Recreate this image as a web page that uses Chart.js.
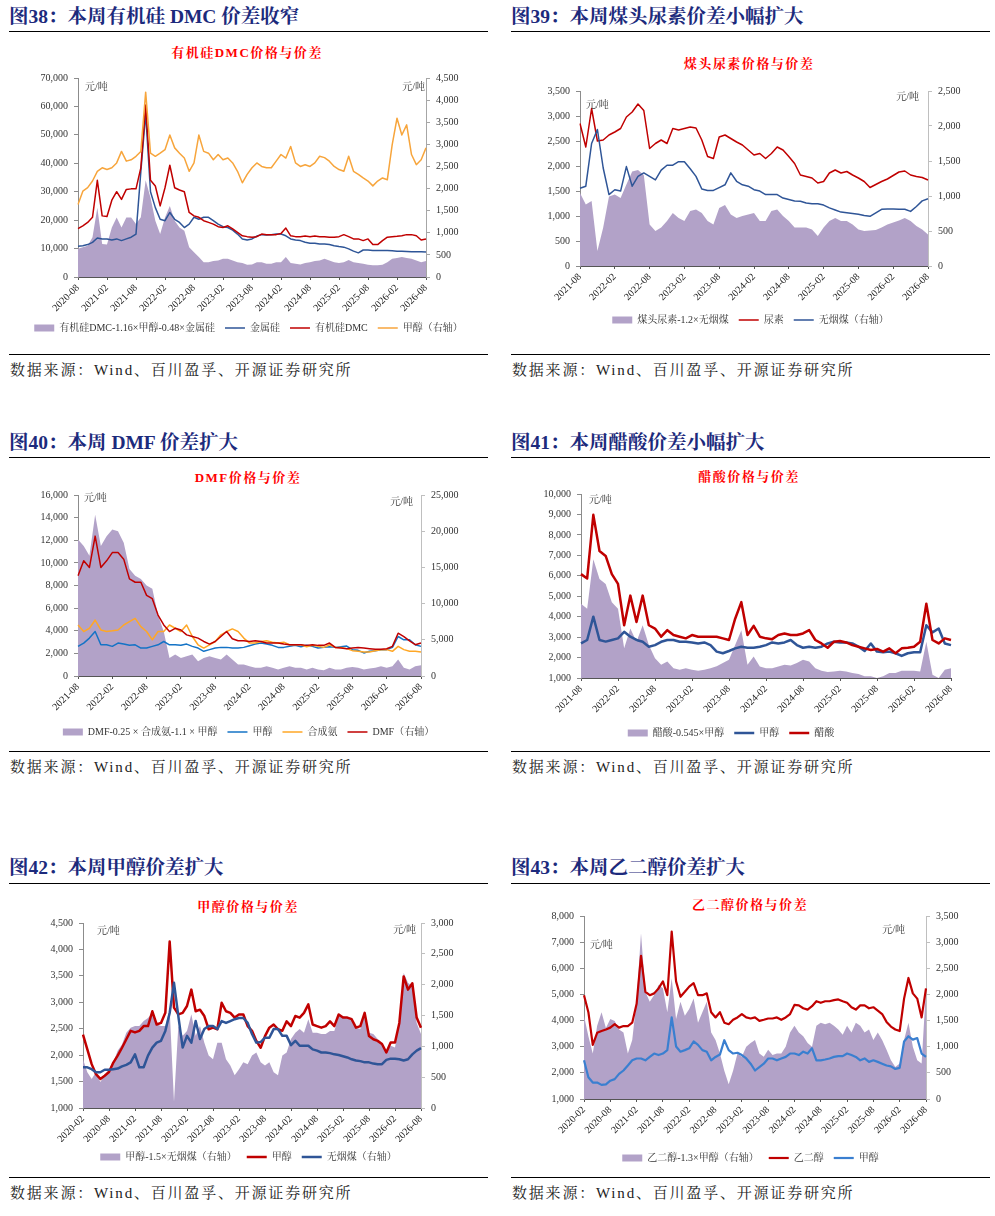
<!DOCTYPE html>
<html><head><meta charset="utf-8">
<script src="https://cdn.jsdelivr.net/npm/chart.js@4/dist/chart.umd.min.js"></script>
<style>
body{margin:0;background:#fff;width:995px;height:1216px;position:relative;overflow:hidden;font-family:"Liberation Serif","Noto Serif CJK SC","Noto Sans CJK SC",serif;}
.t{position:absolute;font-weight:bold;color:#1c2a7c;font-size:19.5px;line-height:22px;white-space:nowrap;}
.hl{position:absolute;height:1px;background:#000;width:479px;}
.ct{position:absolute;color:#f00;font-weight:bold;font-size:13px;line-height:16px;text-align:center;width:240px;letter-spacing:1.5px;white-space:nowrap;}
.src{position:absolute;font-size:15px;line-height:18px;color:#222;letter-spacing:1.8px;white-space:nowrap;}
canvas{position:absolute;}
</style></head><body>

<div class="t" style="left:9px;top:6px">图38：本周有机硅 DMC 价差收窄</div>
<div class="hl" style="left:9px;top:31px"></div>
<div class="ct" style="left:127px;top:45px">有机硅DMC价格与价差</div>
<div class="hl" style="left:9px;top:354px"></div>
<div class="src" style="left:10px;top:361px">数据来源：Wind、百川盈孚、开源证券研究所</div>

<div class="t" style="left:511px;top:6px">图39：本周煤头尿素价差小幅扩大</div>
<div class="hl" style="left:511px;top:31px"></div>
<div class="ct" style="left:629px;top:56px">煤头尿素价格与价差</div>
<div class="hl" style="left:511px;top:354px"></div>
<div class="src" style="left:512px;top:361px">数据来源：Wind、百川盈孚、开源证券研究所</div>

<div class="t" style="left:9px;top:432px">图40：本周 DMF 价差扩大</div>
<div class="hl" style="left:9px;top:457px"></div>
<div class="ct" style="left:128px;top:470px">DMF价格与价差</div>
<div class="hl" style="left:9px;top:751px"></div>
<div class="src" style="left:10px;top:758px">数据来源：Wind、百川盈孚、开源证券研究所</div>

<div class="t" style="left:511px;top:432px">图41：本周醋酸价差小幅扩大</div>
<div class="hl" style="left:511px;top:457px"></div>
<div class="ct" style="left:629px;top:469px">醋酸价格与价差</div>
<div class="hl" style="left:511px;top:751px"></div>
<div class="src" style="left:512px;top:758px">数据来源：Wind、百川盈孚、开源证券研究所</div>

<div class="t" style="left:9px;top:857px">图42：本周甲醇价差扩大</div>
<div class="hl" style="left:9px;top:883px"></div>
<div class="ct" style="left:128px;top:899px">甲醇价格与价差</div>
<div class="hl" style="left:9px;top:1177px"></div>
<div class="src" style="left:10px;top:1184px">数据来源：Wind、百川盈孚、开源证券研究所</div>

<div class="t" style="left:511px;top:857px">图43：本周乙二醇价差扩大</div>
<div class="hl" style="left:511px;top:883px"></div>
<div class="ct" style="left:630px;top:897px">乙二醇价格与价差</div>
<div class="hl" style="left:511px;top:1177px"></div>
<div class="src" style="left:512px;top:1184px">数据来源：Wind、百川盈孚、开源证券研究所</div>

<script>
// ---------- categories (monthly) ----------
function monthLabels(y, m, n) {
  const out = [];
  for (let i = 0; i < n; i++) {
    out.push(y + '-' + String(m).padStart(2, '0'));
    m++; if (m > 12) { m = 1; y++; }
  }
  return out;
}
const MONTHS_2020_08 = monthLabels(2020, 8, 73);
const MONTHS_2021_08 = monthLabels(2021, 8, 61);
const MONTHS_2020_02 = monthLabels(2020, 2, 79);

// ---------- tick values ----------
const TICKS_C1_L = [0,10000,20000,30000,40000,50000,60000,70000];
const TICKS_C1_R = [0,500,1000,1500,2000,2500,3000,3500,4000,4500];
const TICKS_C2_L = [0,500,1000,1500,2000,2500,3000,3500];
const TICKS_C2_R = [0,500,1000,1500,2000,2500];
const TICKS_C3_L = [0,2000,4000,6000,8000,10000,12000,14000,16000];
const TICKS_C3_R = [0,5000,10000,15000,20000,25000];
const TICKS_C4_L = [1000,2000,3000,4000,5000,6000,7000,8000,9000,10000];
const TICKS_C5_L = [1000,1500,2000,2500,3000,3500,4000,4500];
const TICKS_C5_R = [0,500,1000,1500,2000,2500,3000];
const TICKS_C6_L = [1000,2000,3000,4000,5000,6000,7000,8000];
const TICKS_C6_R = [0,500,1000,1500,2000,2500,3000,3500];

// ---------- 图38 有机硅DMC (2020-08 .. 2026-08) ----------
const dmcSpread = [9900,10500,11000,14000,24400,11600,11400,17400,20900,17400,
 20900,20900,18600,21000,34000,27900,19800,15100,20900,25000,
 19800,17400,16300,10500,8700,7000,5200,5200,5600,5800,
 6400,6400,5800,5200,4900,4300,4400,5200,5200,4700,
 4700,5200,5200,7000,4900,4700,4400,4900,5200,5600,
 5800,6400,5800,5200,4900,5200,6000,5200,4900,4700,
 4300,4100,4100,4300,5200,6400,6700,7000,6700,6400,
 5800,5200,5600];
const siliconPrice = [10800,11000,11400,12200,13700,13400,13400,13000,13400,12800,
 13400,14000,15100,37000,57500,30000,24400,20300,19800,22700,
 20300,19200,17400,18600,21000,20300,21000,21000,19800,18600,
 17700,17400,16500,15100,13400,13000,13400,14400,14900,14800,
 14900,15100,15100,14500,13400,13000,12800,12200,11900,11900,
 11600,11600,11400,11000,10700,10500,9900,9100,8500,9500,
 9500,9300,9300,9300,9300,9200,9100,9100,9000,8900,
 8900,8900,8800];
const dmcPrice = [17000,18000,19200,21000,34000,21500,21300,27000,30000,27300,
 30800,31000,31000,38400,60500,34000,32000,25000,31400,39300,
 31400,30600,30000,22700,21500,21000,19800,19200,18600,17700,
 17400,18000,16900,15700,14500,14200,14000,14200,15100,14900,
 14900,14900,15300,17200,14500,14200,14200,14400,14200,14400,
 14200,14200,14000,14000,14200,14900,14200,13400,13400,12800,
 13400,11400,11400,12800,14000,14200,14300,14500,14900,14900,
 14500,13000,13400];
const methanolPriceA = [1640,1940,2020,2170,2390,2470,2430,2470,2580,2840,
 2620,2650,2730,2840,4180,2800,2730,2800,2880,3210,
 2920,2800,2690,2390,2580,3210,2840,2800,2650,2770,
 2650,2690,2580,2390,2130,2320,2470,2580,2500,2470,
 2470,2620,2770,2690,2950,2580,2500,2540,2500,2580,
 2730,2700,2620,2500,2430,2390,2730,2390,2320,2240,
 2170,2060,2170,2240,2200,2990,3590,3210,3440,2770,
 2540,2650,2920];

// ---------- 图39 煤头尿素 (2021-08 .. 2026-08) ----------
const ureaSpread = [1460,1230,1300,300,770,1390,1430,1360,1630,1890,
 1920,1820,830,700,770,900,1060,960,900,1100,
 1130,1060,900,830,1160,1220,1030,960,1000,1030,
 1060,900,900,1100,1130,1000,900,770,770,770,
 730,600,770,900,960,900,900,830,730,700,
 710,720,770,830,870,910,960,900,800,730,
 630];
const ureaPrice = [2850,2380,3150,2500,2520,2620,2680,2750,2980,3080,
 3240,3110,2350,2450,2520,2450,2750,2720,2750,2780,
 2760,2520,2190,2150,2580,2620,2550,2480,2420,2320,
 2220,2250,2150,2250,2380,2320,2190,2050,1820,1790,
 1760,1660,1690,1860,1920,1860,1890,1820,1760,1690,
 1570,1630,1690,1740,1810,1880,1900,1820,1790,1770,
 1720];
const anthracitePriceB = [1110,1140,1750,1950,1400,1020,1090,1070,1420,1140,
 1280,1330,1280,1230,1370,1440,1440,1490,1490,1390,
 1280,1100,1080,1080,1120,1160,1330,1210,1160,1140,
 1090,1070,1020,1020,1020,970,950,930,925,900,
 890,890,870,830,800,770,760,750,740,720,
 710,760,810,815,815,810,810,780,850,930,
 960];

// ---------- 图40 DMF (2021-08 .. 2026-08) ----------
const dmfSpread = [12070,11490,10620,14260,11490,12360,12950,12800,11780,9460,
 8870,8580,8000,7710,5380,3930,1600,1890,1600,1750,
 1890,1310,1600,1750,1600,1460,1890,1460,1020,1020,
 870,730,730,870,730,580,730,870,730,730,
 580,730,580,500,730,580,580,730,790,730,
 580,670,730,870,730,870,1460,730,580,870,
 960];
const methanolPriceDMF = [2620,2910,3350,3930,2760,2760,2620,2910,2820,2710,
 2760,2470,2470,2620,2760,3050,2760,2760,2710,2820,
 2620,2470,2180,2330,2470,2530,2530,2470,2470,2530,
 2680,2820,2910,2820,2710,2530,2530,2620,2710,2590,
 2710,2620,2470,2530,2590,2530,2590,2650,2330,2270,
 2040,2180,2240,2330,2330,2530,3490,3200,3200,2760,
 2620];
const ammoniaPrice = [4510,3930,4220,4950,4070,3930,3990,4070,4510,4800,
 5090,4360,3930,3200,3930,3930,4510,4220,3930,4510,
 3490,2760,2470,2760,3050,3640,3930,4160,3930,3350,
 2910,2910,3050,3110,2990,2910,2990,2760,2760,2760,
 2590,2710,2620,2530,2760,2530,2530,2420,2240,2180,
 2130,2130,2240,2330,2330,2180,2620,2330,2180,2180,
 2120];
const dmfPrice = [13860,15910,15000,19320,15000,15910,17050,17050,16140,13410,
 12950,12950,11140,10680,8410,7050,6140,6590,6360,5680,
 5450,5230,4770,4410,4770,5450,6140,5140,4860,4860,
 4770,4860,4770,4550,4550,4550,4410,4320,4320,4320,
 4230,4320,4230,4230,4550,3950,3860,3770,3860,3950,
 3860,3770,3680,3680,3770,4090,5910,5450,4860,4320,
 4550];

// ---------- 图41 醋酸 (2021-08 .. 2026-08) ----------
const aceticSpread = [4630,4390,6810,5840,5600,4710,4390,2450,3420,2770,
 3580,2610,1970,1650,1810,1480,1400,1480,1400,1360,
 1400,1480,1570,1730,1890,2610,3340,1650,2050,1560,
 1480,1480,1560,1650,1610,1730,1890,1810,1480,1360,
 1290,1320,1360,1320,1240,1190,1080,1080,1000,1080,
 1240,1240,1360,1360,1360,1320,2770,1160,1000,1400,
 1480];
const methanolPriceAce = [2690,2860,4000,2860,2780,2860,2940,3260,3020,2860,
 2770,2530,2610,2770,2860,2860,2770,2770,2740,2690,
 2740,2610,2290,2210,2320,2450,2530,2480,2480,2530,
 2610,2740,2690,2740,2860,2610,2480,2530,2480,2530,
 2690,2770,2740,2740,2690,2530,2320,2690,2290,2260,
 2290,2210,2080,2210,2260,2260,3580,3230,3420,2690,
 2610];
const aceticPrice = [6080,5870,8980,7210,6970,6080,5600,3580,5030,3740,
 5030,3580,3420,3020,3340,3100,3020,2940,3100,3020,
 3020,3020,3020,2940,2860,3900,4710,3100,3550,3020,
 2940,2900,3100,3180,3100,3100,3180,3340,2860,2690,
 2480,2770,2810,2740,2610,2530,2450,2370,2420,2290,
 2450,2210,2450,2480,2530,2770,4630,2860,2690,2940,
 2860];

// ---------- 图42 甲醇 (2020-02 .. 2026-08) ----------
const methanolSpreadC = [790,580,470,580,420,530,630,740,930,1030,
 1220,1300,1330,1330,1410,1460,1540,1360,1330,1330,
 1600,100,1330,1170,1250,1520,1170,1330,1060,850,
 790,1060,1060,790,690,530,630,740,710,850,
 900,740,690,740,580,530,850,900,1120,1220,
 1280,1220,1440,1220,1220,1200,1200,1250,1250,1490,
 1490,1460,1440,1300,1280,1540,1220,1200,1120,1030,
 900,1010,980,1380,2190,2030,1970,1380,1200];
const methanolPriceC = [2390,2110,1830,1640,1550,1610,1680,1860,1990,2140,
 2300,2460,2430,2460,2550,2550,2830,2580,2610,2800,
 4150,2900,2770,2800,2930,3240,2830,2860,2740,2490,
 2520,2490,2990,2830,2800,2710,2770,2770,2550,2460,
 2270,2140,2360,2520,2580,2490,2460,2640,2550,2740,
 2710,2800,2960,2580,2550,2520,2550,2640,2550,2770,
 2710,2710,2680,2520,2550,2800,2360,2300,2270,2210,
 2050,2240,2240,2610,3490,3240,3360,2710,2520];
const anthracitePriceC = [660,660,630,580,580,620,620,630,640,675,
 700,740,870,660,660,850,980,1060,1090,1250,
 1540,2030,1490,980,1170,1060,1410,1120,1280,1330,
 1330,1280,1410,1380,1410,1440,1460,1460,1380,1200,
 1060,1070,1140,1140,1280,1280,1170,1170,1020,1090,
 1010,1010,1010,950,930,900,900,890,870,860,
 840,820,790,770,760,740,740,720,710,710,
 780,800,800,790,770,790,870,930,970];

// ---------- 图43 乙二醇 (2020-02 .. 2026-08) ----------
const megSpread = [1590,1200,870,1400,1660,1360,1530,1490,1330,1270,
 870,1130,1890,3170,2050,1860,1990,2180,2120,1660,
 2310,1530,1860,1590,1720,1920,1460,1660,1860,1270,
 1130,870,540,280,540,870,810,1000,1070,1130,
 870,810,940,840,870,870,1000,1270,1400,1270,
 1200,1070,1000,1400,1460,1430,1460,1400,1330,1230,
 1400,1270,1460,1400,1270,1330,1130,1270,1130,940,
 740,610,680,1130,1460,1000,740,680,2120];
const megPrice = [4970,4320,3070,3530,3600,3660,3730,3860,3730,3790,
 3790,3920,4640,6480,5100,4970,5040,5230,5500,4970,
 7400,5500,4910,5100,5300,5430,4970,4970,5040,4320,
 4120,4320,3920,3860,4030,4120,4250,4120,4080,4120,
 3990,4030,4080,4080,4120,4030,4120,4250,4600,4580,
 4470,4420,4550,4740,4680,4740,4740,4780,4810,4740,
 4680,4510,4420,4580,4580,4470,4510,4380,4250,3950,
 3770,3660,3600,4840,5630,5040,4840,4120,5230];
const methanolPriceMEG = [2480,1830,1630,1630,1540,1560,1700,1760,1960,2090,
 2280,2480,2550,2550,2480,2610,2740,2680,2740,2870,
 4120,3010,2810,2870,2940,3200,3070,2870,2810,2480,
 2610,2700,3250,2870,2740,2770,2680,2550,2350,2090,
 2220,2350,2550,2550,2480,2550,2610,2740,2740,2680,
 2810,2740,2940,2480,2480,2510,2550,2610,2640,2640,
 2740,2680,2610,2480,2550,2420,2480,2420,2350,2280,
 2250,2150,2190,3200,3400,3270,3330,2740,2610];

// ---------- rendering ----------
const FONT = '"Liberation Serif","Noto Serif CJK SC","Noto Sans CJK SC",serif';
Chart.defaults.font.family = FONT;
Chart.defaults.animation = false;
const PURPLE = '#B2A2C8';

const panels = [
 {col:9, L:78, R:426, T:76, B:277, Ly:328, labels:MONTHS_2020_08, yL:TICKS_C1_L, yR:TICKS_C1_R, rightAxisColor:'#a6a6a6',
  units:[{side:'l',dx:7,dy:9},{side:'r',dx:1,dy:9}],
  sets:[{label:'有机硅DMC-1.16×甲醇-0.48×金属硅', data:dmcSpread, area:true, axis:'yL'},
        {label:'金属硅', data:siliconPrice, color:'#2E5597', w:1.5, axis:'yL'},
        {label:'有机硅DMC', data:dmcPrice, color:'#C00000', w:1.5, axis:'yL'},
        {label:'甲醇（右轴）', data:methanolPriceA, color:'#F7A53C', w:1.5, axis:'yR'}]},
 {col:511, L:580, R:928, T:89, B:266, Ly:320, labels:MONTHS_2021_08, yL:TICKS_C2_L, yR:TICKS_C2_R, rightAxisColor:'#bfbfbf',
  units:[{side:'l',dx:6,dy:14},{side:'r',dx:9,dy:6}],
  sets:[{label:'煤头尿素-1.2×无烟煤', data:ureaSpread, area:true, axis:'yL'},
        {label:'尿素', data:ureaPrice, color:'#C00000', w:1.5, axis:'yL'},
        {label:'无烟煤（右轴）', data:anthracitePriceB, color:'#2F5597', w:1.5, axis:'yR'}]},
 {col:9, L:78, R:421, T:493, B:676, Ly:732, labels:MONTHS_2021_08, yL:TICKS_C3_L, yR:TICKS_C3_R, rightAxisColor:'#bfbfbf',
  units:[{side:'l',dx:6,dy:3},{side:'r',dx:8,dy:7}],
  sets:[{label:'DMF-0.25 × 合成氨-1.1 × 甲醇', data:dmfSpread, area:true, axis:'yL'},
        {label:'甲醇', data:methanolPriceDMF, color:'#1473C6', w:1.5, axis:'yL'},
        {label:'合成氨', data:ammoniaPrice, color:'#FFA726', w:1.5, axis:'yL'},
        {label:'DMF（右轴）', data:dmfPrice, color:'#C00000', w:1.5, axis:'yR'}]},
 {col:511, L:581, R:951, T:492, B:678, Ly:733, labels:MONTHS_2021_08, yL:TICKS_C4_L, yR:null,
  units:[{side:'l',dx:8,dy:6}],
  sets:[{label:'醋酸-0.545×甲醇', data:aceticSpread, area:true, axis:'yL'},
        {label:'甲醇', data:methanolPriceAce, color:'#2F5597', w:2.5, axis:'yL'},
        {label:'醋酸', data:aceticPrice, color:'#C00000', w:2.5, axis:'yL'}]},
 {col:9, L:83, R:421, T:921, B:1108, Ly:1157, labels:MONTHS_2020_02, yL:TICKS_C5_L, yR:TICKS_C5_R, rightAxisColor:'#bfbfbf',
  units:[{side:'l',dx:14,dy:8},{side:'r',dx:5,dy:7}],
  sets:[{label:'甲醇-1.5×无烟煤（右轴）', data:methanolSpreadC, area:true, axis:'yR'},
        {label:'甲醇', data:methanolPriceC, color:'#C00000', w:2.5, axis:'yL'},
        {label:'无烟煤（右轴）', data:anthracitePriceC, color:'#2F5597', w:2.5, axis:'yR'}]},
 {col:511, L:584, R:926, T:914, B:1099, Ly:1158, labels:MONTHS_2020_02, yL:TICKS_C6_L, yR:TICKS_C6_R, rightAxisColor:'#bfbfbf',
  units:[{side:'l',dx:6,dy:29},{side:'r',dx:21,dy:14}],
  sets:[{label:'乙二醇-1.3×甲醇（右轴）', data:megSpread, area:true, axis:'yR'},
        {label:'乙二醇', data:megPrice, color:'#C00000', w:2.2, axis:'yL'},
        {label:'甲醇', data:methanolPriceMEG, color:'#3A7FD0', w:2.2, axis:'yL'}]}
];

const CW = 479;
const LEG_PAD = 10, LEG_FONT = 10;

function yScale(ticks, pos, width, axisColor) {
  return {
    type:'linear', position:pos,
    min:ticks[0], max:ticks[ticks.length-1],
    ticks:{stepSize:ticks[1]-ticks[0], padding:6, color:'#333', font:{size:10},
      callback:v=>Number(v).toLocaleString('en-US')},
    grid:{drawOnChartArea:false, drawTicks:true, tickLength:4, color:axisColor},
    border:{display:true, color:axisColor, width:1},
    afterFit:s=>{ s.width = width; }
  };
}

panels.forEach(p => {
  const canvasTop = p.T - 10;
  const legendTop = p.Ly - (LEG_PAD + LEG_FONT/2);
  const xh = legendTop - p.B;
  const H = legendTop + (LEG_FONT + LEG_PAD + 10) - canvasTop;
  const cv = document.createElement('canvas');
  cv.width = CW; cv.height = H;
  cv.style.left = p.col + 'px'; cv.style.top = canvasTop + 'px';
  cv.style.width = CW + 'px'; cv.style.height = H + 'px';
  document.body.appendChild(cv);

  const nLines = p.sets.length;
  const datasets = p.sets.map((s, i) => s.area ? {
      label:s.label, data:s.data, yAxisID:s.axis, fill:'start',
      backgroundColor:PURPLE, borderColor:PURPLE, borderWidth:0, pointRadius:0,
      pointStyle:'rect', order:20, tension:0
    } : {
      label:s.label, data:s.data, yAxisID:s.axis, fill:false,
      borderColor:s.color, backgroundColor:s.color, borderWidth:s.w, pointRadius:0,
      pointStyle:'line', order:nLines - i, tension:0, borderJoinStyle:'round'
    });

  const scales = {
    x:{
      type:'category', offset:false,
      ticks:{autoSkip:false, maxRotation:45, minRotation:45, padding:2, color:'#222', font:{size:10},
        callback:function(v, i){ return i % 6 === 0 ? this.getLabelForValue(v) : ''; }},
      grid:{drawOnChartArea:false, drawTicks:true, tickLength:3,
        color:c => (c.index % 6 === 0) ? '#555' : 'rgba(0,0,0,0)'},
      border:{display:true, color:'#555', width:1},
      afterFit:s=>{ s.height = xh; }
    },
    yL: yScale(p.yL, 'left', p.L - p.col, '#8c8c8c')
  };
  if (p.yR) scales.yR = yScale(p.yR, 'right', p.col + CW - p.R, p.rightAxisColor);

  const unitPlugin = {
    id:'units',
    afterDraw(chart){
      const {ctx, chartArea:a} = chart;
      ctx.save();
      ctx.font = '10px ' + FONT;
      ctx.fillStyle = '#333';
      ctx.textBaseline = 'middle';
      p.units.forEach(u => {
        if (u.side === 'l') { ctx.textAlign = 'left'; ctx.fillText('元/吨', a.left + u.dx, a.top + u.dy); }
        else { ctx.textAlign = 'right'; ctx.fillText('元/吨', a.right - u.dx, a.top + u.dy); }
      });
      ctx.restore();
    }
  };

  new Chart(cv, {
    type:'line',
    data:{labels:p.labels, datasets},
    options:{
      responsive:false, animation:false, devicePixelRatio:1,
      layout:{padding:{top:10, left:0, right:p.yR ? 0 : (p.col + CW - p.R), bottom:0}},
      plugins:{
        legend:{display:true, position:'bottom',
          labels:{usePointStyle:true, pointStyleWidth:20, boxHeight:7, padding:LEG_PAD,
            color:'#333', font:{size:LEG_FONT},
            sort:(a, b) => a.datasetIndex - b.datasetIndex}},
        tooltip:{enabled:false}
      },
      scales
    },
    plugins:[unitPlugin]
  });
});
</script>
</body></html>
